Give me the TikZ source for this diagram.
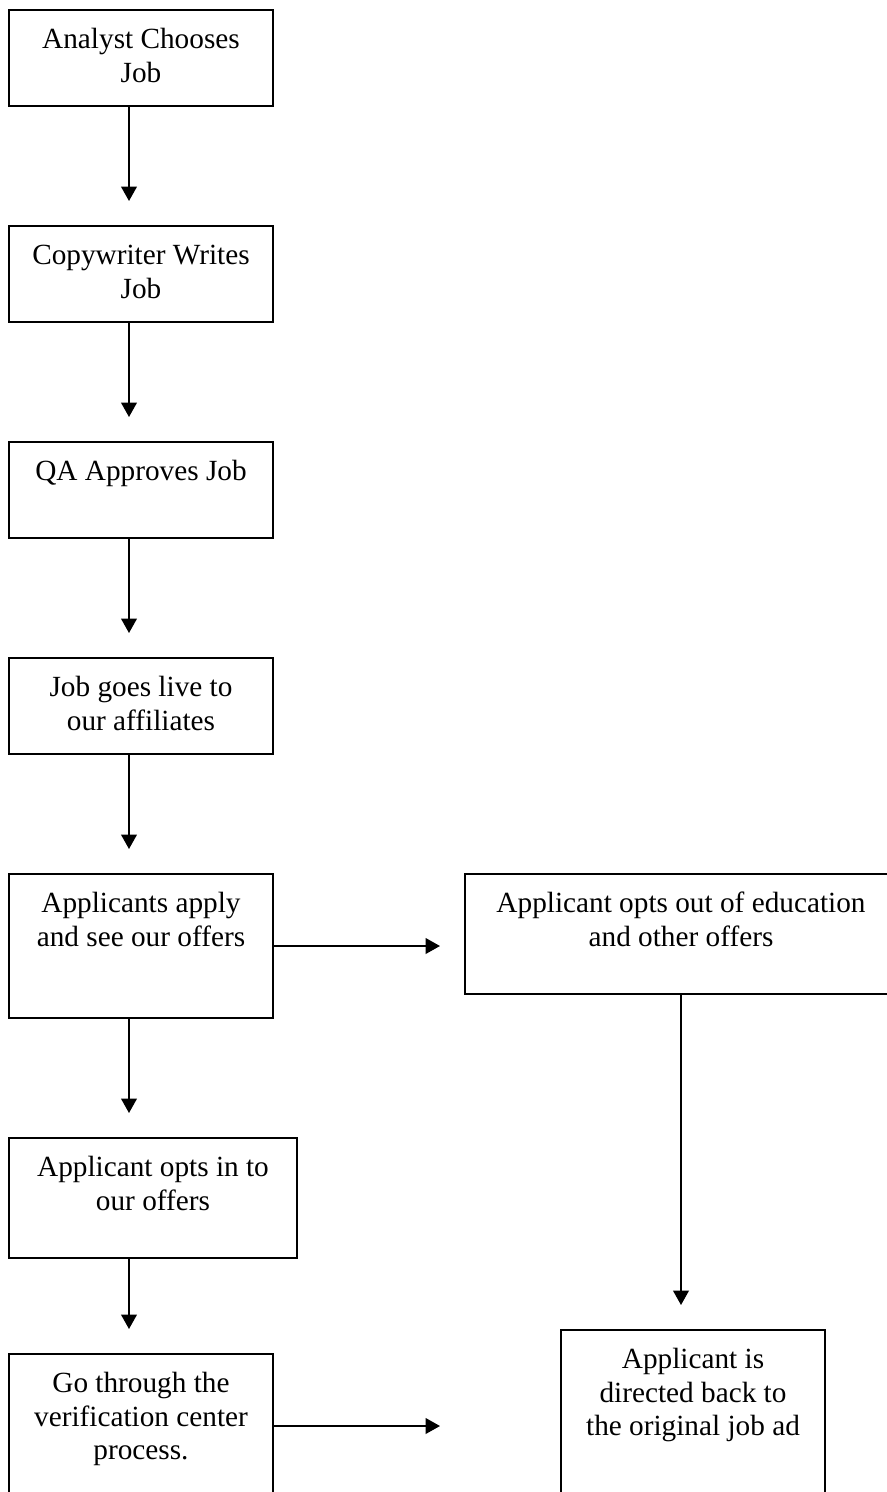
\documentclass[tikz,border=0pt]{standalone}
\usepackage{fontspec}
\setmainfont{Liberation Serif}
\usetikzlibrary{arrows.meta,positioning}
\newlength{\pxlen}
\setlength{\pxlen}{0.41pt}

\begin{document}
\begin{tikzpicture}[x=\pxlen, y=-\pxlen]
  \tikzset{stepbox/.style={draw, line width=0.8pt, minimum width=264\pxlen, inner sep=0pt},
           steptext/.style={align=center, inner sep=0pt, font=\fontsize{12}{13.8}\selectfont},
           flow/.style={line width=0.8pt, -{Triangle[length=5.9pt,width=6.4pt]}}}
  \clip (0,0) rectangle (887,1492);
  \node[stepbox, minimum height=96\pxlen] (analyst) at (141,58) {};
  \node[steptext, below=6.3pt of analyst.north] (analyst-t) {\strut Analyst Chooses\\Job};
  \node[stepbox, minimum height=96\pxlen] (copy) at (141,274) {};
  \node[steptext, below=6.3pt of copy.north] (copy-t) {\strut Copywriter Writes\\Job};
  \node[stepbox, minimum height=96\pxlen] (qa) at (141,490) {};
  \node[steptext, below=6.3pt of qa.north] (qa-t) {\strut QA Approves Job};
  \node[stepbox, minimum height=96\pxlen] (live) at (141,706) {};
  \node[steptext, below=6.3pt of live.north] (live-t) {\strut Job goes live to\\our affiliates};
  \node[stepbox, minimum height=144\pxlen] (apply) at (141,946) {};
  \node[steptext, below=6.3pt of apply.north] (apply-t) {\strut Applicants apply\\and see our offers};
  \node[stepbox, minimum width=432\pxlen, minimum height=120\pxlen] (optout) at (681,934) {};
  \node[steptext, below=6.3pt of optout.north] (optout-t) {\strut Applicant opts out of education\\and other offers};
  \node[stepbox, minimum width=288\pxlen, minimum height=120\pxlen] (optin) at (153,1198) {};
  \node[steptext, below=6.3pt of optin.north] (optin-t) {\strut Applicant opts in to\\our offers};
  \node[stepbox, minimum height=144\pxlen] (verify) at (141,1426) {};
  \node[steptext, below=6.3pt of verify.north] (verify-t) {\strut Go through the\\verification center\\process.};
  \node[stepbox, minimum height=168\pxlen] (back) at (693,1414) {};
  \node[steptext, below=6.3pt of back.north] (back-t) {\strut Applicant is\\directed back to\\the original job ad};
  \foreach \from/\tip in {analyst/201, copy/417, qa/633, live/849, apply/1113, optin/1329}{
    \coordinate (\from-tip) at (129,\tip);
    \draw[flow] (\from.south -| \from-tip) -- (\from-tip);
  }
  \coordinate (optout-in) at (440,946);
  \coordinate (back-tip) at (681,1305);
  \coordinate (back-in) at (440,1426);
  \draw[flow] (apply.east) -- (optout-in);
  \draw[flow] (optout.south) -- (back-tip);
  \draw[flow] (verify.east) -- (back-in);
\end{tikzpicture}
\end{document}
